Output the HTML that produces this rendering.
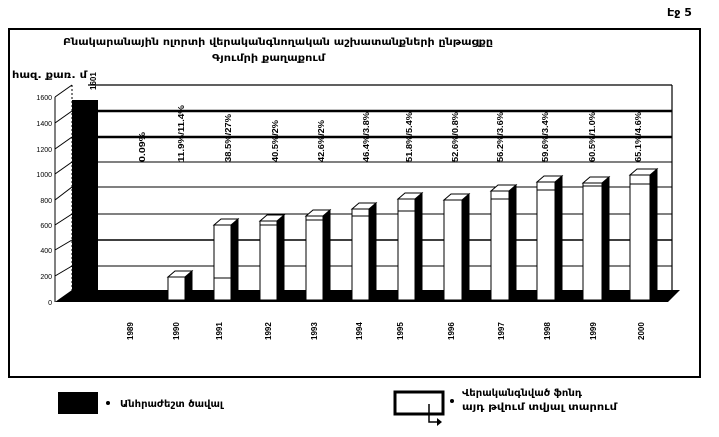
<!DOCTYPE html>
<html><head><meta charset="utf-8"><style>
html,body{margin:0;padding:0;background:#fff;}
svg{display:block;font-family:"Liberation Sans","DejaVu Sans",sans-serif;}
</style></head><body>
<svg width="719" height="437" viewBox="0 0 719 437" xmlns="http://www.w3.org/2000/svg">
<rect width="719" height="437" fill="#fff"/>
<text x="667" y="16" font-size="11" font-weight="bold" font-family="DejaVu Sans, sans-serif">Էջ 5</text>
<rect x="9" y="29" width="691" height="348" fill="none" stroke="#000" stroke-width="2"/>
<text x="63" y="45" font-size="10" font-weight="bold" textLength="430" lengthAdjust="spacingAndGlyphs" font-family="DejaVu Sans, sans-serif">Բնակարանային ոլորտի վերականգնողական աշխատանքների ընթացքը</text>
<text x="212" y="61" font-size="10" font-weight="bold" textLength="113" lengthAdjust="spacingAndGlyphs" font-family="DejaVu Sans, sans-serif">Գյումրի քաղաքում</text>
<text x="12" y="78" font-size="10" font-weight="bold" textLength="75" lengthAdjust="spacingAndGlyphs" font-family="DejaVu Sans, sans-serif">հազ. քառ. մ</text>
<line x1="88" y1="85" x2="672" y2="85" stroke="#000" stroke-width="1.2"/>
<line x1="672" y1="85" x2="672" y2="292" stroke="#000" stroke-width="1.2"/>
<g stroke="#000">
<line x1="72" y1="111" x2="672" y2="111" stroke-width="2.5"/>
<line x1="72" y1="137" x2="672" y2="137" stroke-width="2.5"/>
<line x1="72" y1="162" x2="672" y2="162" stroke-width="1"/>
<line x1="72" y1="187" x2="672" y2="187" stroke-width="1"/>
<line x1="72" y1="214" x2="672" y2="214" stroke-width="1"/>
<line x1="72" y1="240" x2="672" y2="240" stroke-width="1.5"/>
<line x1="72" y1="266" x2="672" y2="266" stroke-width="1"/>
<line x1="55" y1="97" x2="55" y2="302" stroke-width="1"/>
<line x1="72" y1="85" x2="72" y2="292" stroke-width="1" stroke-dasharray="2,2"/>
<line x1="55" y1="97" x2="72" y2="85"/><line x1="55" y1="123" x2="72" y2="111"/>
<line x1="55" y1="149" x2="72" y2="137"/><line x1="55" y1="174" x2="72" y2="162"/>
<line x1="55" y1="200" x2="72" y2="187"/><line x1="55" y1="225" x2="72" y2="214"/>
<line x1="55" y1="250" x2="72" y2="240"/><line x1="55" y1="276" x2="72" y2="266"/>
</g>
<g font-size="7" text-anchor="end">
<text x="52" y="100">1600</text><text x="52" y="126">1400</text><text x="52" y="152">1200</text>
<text x="52" y="177">1000</text><text x="52" y="203">800</text><text x="52" y="228">600</text>
<text x="52" y="253">400</text><text x="52" y="279">200</text><text x="52" y="305">0</text>
</g>
<polygon points="55,302 72,290 680,290 668,302" fill="#000"/>
<rect x="72" y="100" width="26" height="200" fill="#000"/>
<text transform="translate(96,90) rotate(-90)" font-size="8" font-weight="bold">1601</text>
<g fill="#fff" stroke="#000">
<polygon points="230,297 245,297 240,300 225,300" fill="#000"/>
<rect x="168" y="277" width="17" height="23"/><polygon points="185,277 192,271 192,295 185,300" fill="#000"/><polygon points="168,277 175,271 192,271 185,277"/>
<rect x="214" y="225" width="17" height="75"/><polygon points="231,225 238,219 238,295 231,300" fill="#000"/><polygon points="214,225 221,219 238,219 231,225"/><line x1="214" y1="278" x2="231" y2="278"/>
<rect x="260" y="221" width="17" height="79"/><polygon points="277,221 284,215 284,295 277,300" fill="#000"/><polygon points="260,221 267,215 284,215 277,221"/><line x1="260" y1="225" x2="277" y2="225"/>
<rect x="306" y="216" width="17" height="84"/><polygon points="323,216 330,210 330,295 323,300" fill="#000"/><polygon points="306,216 313,210 330,210 323,216"/><line x1="306" y1="220" x2="323" y2="220"/>
<rect x="352" y="209" width="17" height="91"/><polygon points="369,209 376,203 376,295 369,300" fill="#000"/><polygon points="352,209 359,203 376,203 369,209"/><line x1="352" y1="216" x2="369" y2="216"/>
<rect x="398" y="199" width="17" height="101"/><polygon points="415,199 422,193 422,295 415,300" fill="#000"/><polygon points="398,199 405,193 422,193 415,199"/><line x1="398" y1="211" x2="415" y2="211"/>
<rect x="444" y="200" width="18" height="100"/><polygon points="462,200 469,194 469,295 462,300" fill="#000"/><polygon points="444,200 451,194 469,194 462,200"/>
<rect x="491" y="191" width="18" height="109"/><polygon points="509,191 516,185 516,295 509,300" fill="#000"/><polygon points="491,191 498,185 516,185 509,191"/><line x1="491" y1="199" x2="509" y2="199"/>
<rect x="537" y="182" width="18" height="118"/><polygon points="555,182 562,176 562,295 555,300" fill="#000"/><polygon points="537,182 544,176 562,176 555,182"/><line x1="537" y1="190" x2="555" y2="190"/>
<rect x="583" y="183" width="19" height="117"/><polygon points="602,183 609,177 609,295 602,300" fill="#000"/><polygon points="583,183 590,177 609,177 602,183"/><line x1="583" y1="186" x2="602" y2="186"/>
<rect x="630" y="175" width="20" height="125"/><polygon points="650,175 657,169 657,295 650,300" fill="#000"/><polygon points="630,175 637,169 657,169 650,175"/><line x1="630" y1="184" x2="650" y2="184"/>
</g>
<g font-size="8" font-weight="bold">
<text transform="translate(145,162) rotate(-90)" textLength="30" lengthAdjust="spacingAndGlyphs">0.09%</text>
<text transform="translate(184,162) rotate(-90)" textLength="57" lengthAdjust="spacingAndGlyphs">11.9%/11.4%</text>
<text transform="translate(231,162) rotate(-90)" textLength="48" lengthAdjust="spacingAndGlyphs">38.5%/27%</text>
<text transform="translate(278,162) rotate(-90)" textLength="42" lengthAdjust="spacingAndGlyphs">40.5%/2%</text>
<text transform="translate(324,162) rotate(-90)" textLength="42" lengthAdjust="spacingAndGlyphs">42.6%/2%</text>
<text transform="translate(369,162) rotate(-90)" textLength="50" lengthAdjust="spacingAndGlyphs">46.4%/3.8%</text>
<text transform="translate(412,162) rotate(-90)" textLength="50" lengthAdjust="spacingAndGlyphs">51.8%/5.4%</text>
<text transform="translate(458,162) rotate(-90)" textLength="50" lengthAdjust="spacingAndGlyphs">52.6%/0.8%</text>
<text transform="translate(503,162) rotate(-90)" textLength="50" lengthAdjust="spacingAndGlyphs">56.2%/3.6%</text>
<text transform="translate(548,162) rotate(-90)" textLength="50" lengthAdjust="spacingAndGlyphs">59.6%/3.4%</text>
<text transform="translate(595,162) rotate(-90)" textLength="50" lengthAdjust="spacingAndGlyphs">60.5%/1.0%</text>
<text transform="translate(641,162) rotate(-90)" textLength="50" lengthAdjust="spacingAndGlyphs">65.1%/4.6%</text>
</g>
<g font-size="8" font-weight="bold">
<text transform="translate(133,340) rotate(-90)">1989</text>
<text transform="translate(179,340) rotate(-90)">1990</text>
<text transform="translate(222,340) rotate(-90)">1991</text>
<text transform="translate(271,340) rotate(-90)">1992</text>
<text transform="translate(317,340) rotate(-90)">1993</text>
<text transform="translate(362,340) rotate(-90)">1994</text>
<text transform="translate(403,340) rotate(-90)">1995</text>
<text transform="translate(454,340) rotate(-90)">1996</text>
<text transform="translate(504,340) rotate(-90)">1997</text>
<text transform="translate(550,340) rotate(-90)">1998</text>
<text transform="translate(596,340) rotate(-90)">1999</text>
<text transform="translate(644,340) rotate(-90)">2000</text>
</g>
<rect x="58" y="392" width="40" height="22" fill="#000"/>
<circle cx="108" cy="403" r="2" fill="#000"/>
<text x="120" y="407" font-size="10" font-weight="bold" textLength="103" lengthAdjust="spacingAndGlyphs" font-family="DejaVu Sans, sans-serif">Անհրաժեշտ ծավալ</text>
<rect x="395" y="392" width="48" height="22" fill="#fff" stroke="#000" stroke-width="3"/>
<polyline points="429,404 429,422 437,422" fill="none" stroke="#000" stroke-width="1.5"/>
<polygon points="437,418 442,422 437,426" fill="#000"/>
<circle cx="452" cy="401" r="2" fill="#000"/>
<text x="462" y="396" font-size="10" font-weight="bold" textLength="120" lengthAdjust="spacingAndGlyphs" font-family="DejaVu Sans, sans-serif">Վերականգնված ֆոնդ</text>
<text x="462" y="410" font-size="10" font-weight="bold" textLength="155" lengthAdjust="spacingAndGlyphs" font-family="DejaVu Sans, sans-serif">այդ թվում տվյալ տարում</text>
</svg>
</body></html>
